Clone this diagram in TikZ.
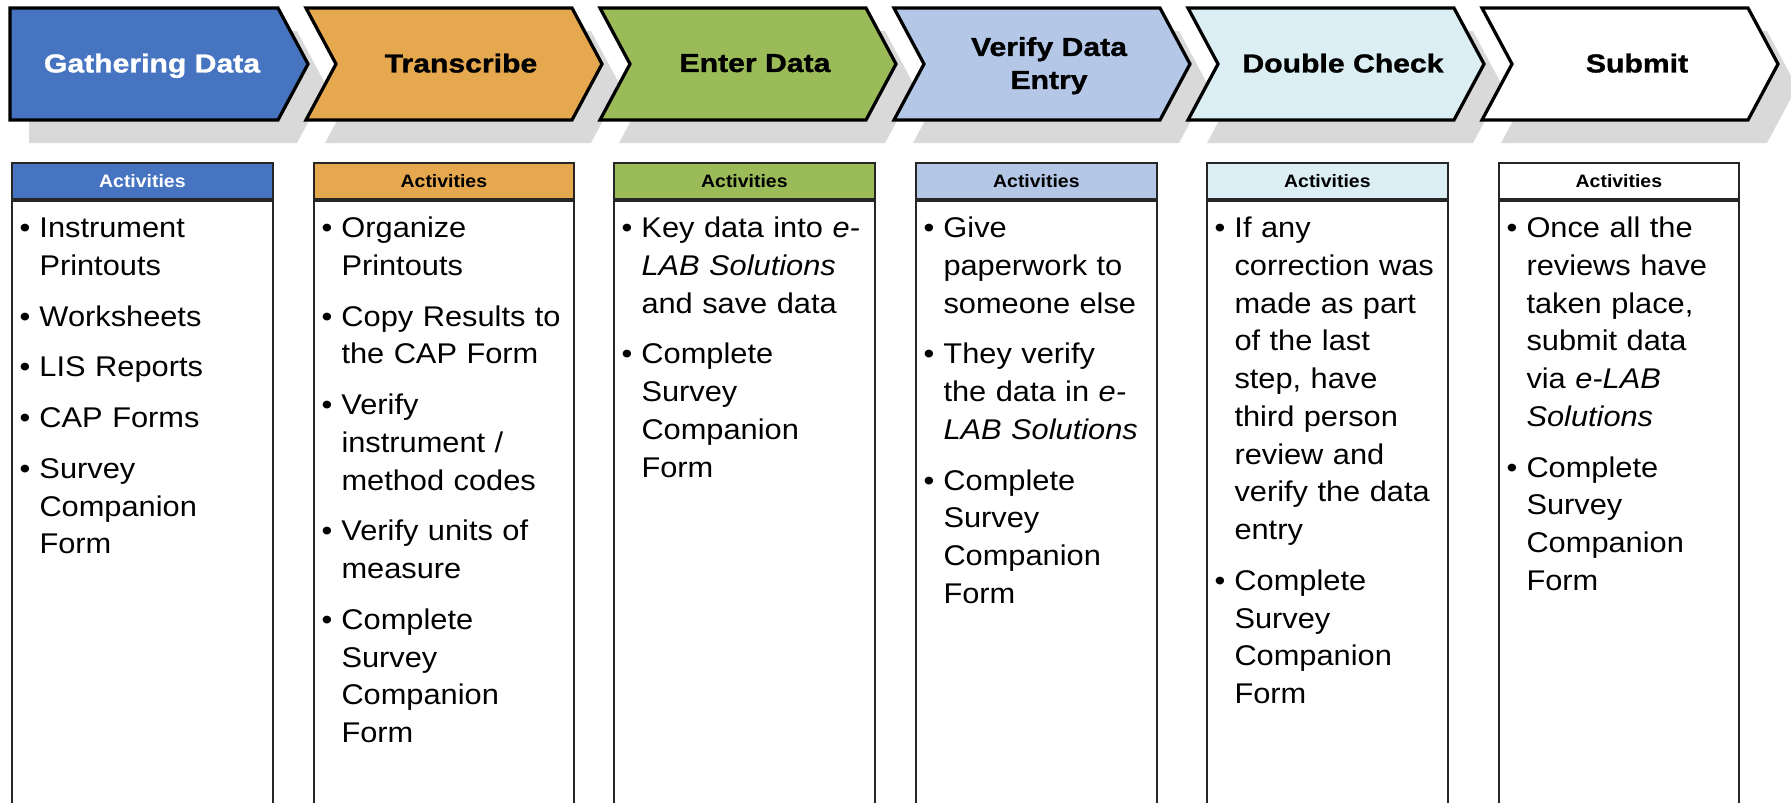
\documentclass[tikz,border=0pt]{standalone}
\usepackage{fontspec}
\setmainfont{Liberation Sans}[FakeStretch=1.08]
\newfontfamily\stepfont{Liberation Sans}[FakeStretch=1.16, BoldFeatures={FakeBold=1.2}]
\usetikzlibrary{positioning}

\definecolor{gatherblue}{HTML}{4674C1}
\definecolor{transorange}{HTML}{E6A84F}
\definecolor{entergreen}{HTML}{9BBB59}
\definecolor{verifyblue}{HTML}{B4C7E7}
\definecolor{checkaqua}{HTML}{DAEEF3}
\definecolor{shadowgray}{HTML}{D9D9D9}
\definecolor{boxgray}{HTML}{262626}

% one bullet of an activity list
\newcommand{\act}[1]{\hangindent=8pt\hangafter=1\noindent\makebox[8pt][l]{\strut\textbullet}#1\par\vspace{5.2pt}}

\tikzset{
  chevron/.style={draw=black, line width=1.3pt, line join=miter},
  steptext/.style={font=\stepfont\bfseries\fontsize{10.4pt}{13.2pt}\selectfont, align=center, text depth=0pt, inner sep=0pt},
  headbox/.style={draw=boxgray, line width=0.7pt, minimum height=14.4pt, inner sep=0pt, anchor=north west, font=\bfseries\fontsize{7.2pt}{8pt}\selectfont},
  bodybox/.style={draw=boxgray, line width=0.7pt, minimum height=250pt, inner sep=0pt},
  actlist/.style={anchor=north west, inner sep=0pt, text width=100pt, align=left, font=\fontsize{11.4pt}{15.1pt}\selectfont}
}

\begin{document}
\begin{tikzpicture}[x=0.4pt, y=-0.4pt]
    \useasboundingbox (0,0) rectangle (1791,802);

    % shadows
    \fill[shadowgray] (29,31) -- ++(268,0) -- ++(30,56) -- ++(-30,56) -- ++(-268,0) -- cycle;
    \foreach \L in {306,600,894,1188,1482}
        \fill[shadowgray] (\L+19,31) -- ++(266,0) -- ++(30,56) -- ++(-30,56) -- ++(-266,0) -- ++(30,-56) -- cycle;

    % chevrons
    \draw[chevron, fill=gatherblue] (10,8) -- ++(268,0) -- ++(30,56) -- ++(-30,56) -- ++(-268,0) -- cycle;
    \foreach \L/\col in {306/transorange, 600/entergreen, 894/verifyblue, 1188/checkaqua, 1482/white}
        \draw[chevron, fill=\col] (\L,8) -- ++(266,0) -- ++(30,56) -- ++(-30,56) -- ++(-266,0) -- ++(30,-56) -- cycle;

    \node[steptext, text=white] (gather) at (152,63) {Gathering Data};
    \node[steptext] (transcribe) at (461,63) {Transcribe};
    \node[steptext] (enter) at (755,63) {Enter Data};
    \node[steptext] (verify) at (1049,63) {Verify Data\\Entry};
    \node[steptext] (check) at (1343,63) {Double Check};
    \node[steptext] (submit) at (1637,63) {Submit};

    % activity boxes
    \foreach \n/\x/\w/\col/\tc in {1/11/104.4pt/gatherblue/white, 2/313/104pt/transorange/black, 3/613/104.4pt/entergreen/black, 4/915/96.4pt/verifyblue/black, 5/1206/96.4pt/checkaqua/black, 6/1498/96pt/white/black} {
        \node[headbox, fill=\col, text=\tc, minimum width=\w] (h\n) at (\x,162) {Activities};
        \node[bodybox, minimum width=\w, below=0pt of h\n] (b\n) {};
    }

    \node[actlist] (l1) at ([xshift=3.2pt, yshift=-4.4pt]b1.north west) {%
        \act{Instrument\newline Printouts}
        \act{Worksheets}
        \act{LIS Reports}
        \act{CAP Forms}
        \act{Survey\newline Companion\newline Form}};
    \node[actlist] (l2) at ([xshift=3.2pt, yshift=-4.4pt]b2.north west) {%
        \act{Organize\newline Printouts}
        \act{Copy Results to\newline the CAP Form}
        \act{Verify\newline instrument /\newline method codes}
        \act{Verify units of\newline measure}
        \act{Complete\newline Survey\newline Companion\newline Form}};
    \node[actlist] (l3) at ([xshift=3.2pt, yshift=-4.4pt]b3.north west) {%
        \act{Key data into \textit{e-}\newline \textit{LAB Solutions}\newline and save data}
        \act{Complete\newline Survey\newline Companion\newline Form}};
    \node[actlist] (l4) at ([xshift=3.2pt, yshift=-4.4pt]b4.north west) {%
        \act{Give\newline paperwork to\newline someone else}
        \act{They verify\newline the data in \textit{e-}\newline \textit{LAB Solutions}}
        \act{Complete\newline Survey\newline Companion\newline Form}};
    \node[actlist] (l5) at ([xshift=3.2pt, yshift=-4.4pt]b5.north west) {%
        \act{If any\newline correction was\newline made as part\newline of the last\newline step, have\newline third person\newline review and\newline verify the data\newline entry}
        \act{Complete\newline Survey\newline Companion\newline Form}};
    \node[actlist] (l6) at ([xshift=3.2pt, yshift=-4.4pt]b6.north west) {%
        \act{Once all the\newline reviews have\newline taken place,\newline submit data\newline via \textit{e-LAB}\newline \textit{Solutions}}
        \act{Complete\newline Survey\newline Companion\newline Form}};
\end{tikzpicture}
\end{document}
